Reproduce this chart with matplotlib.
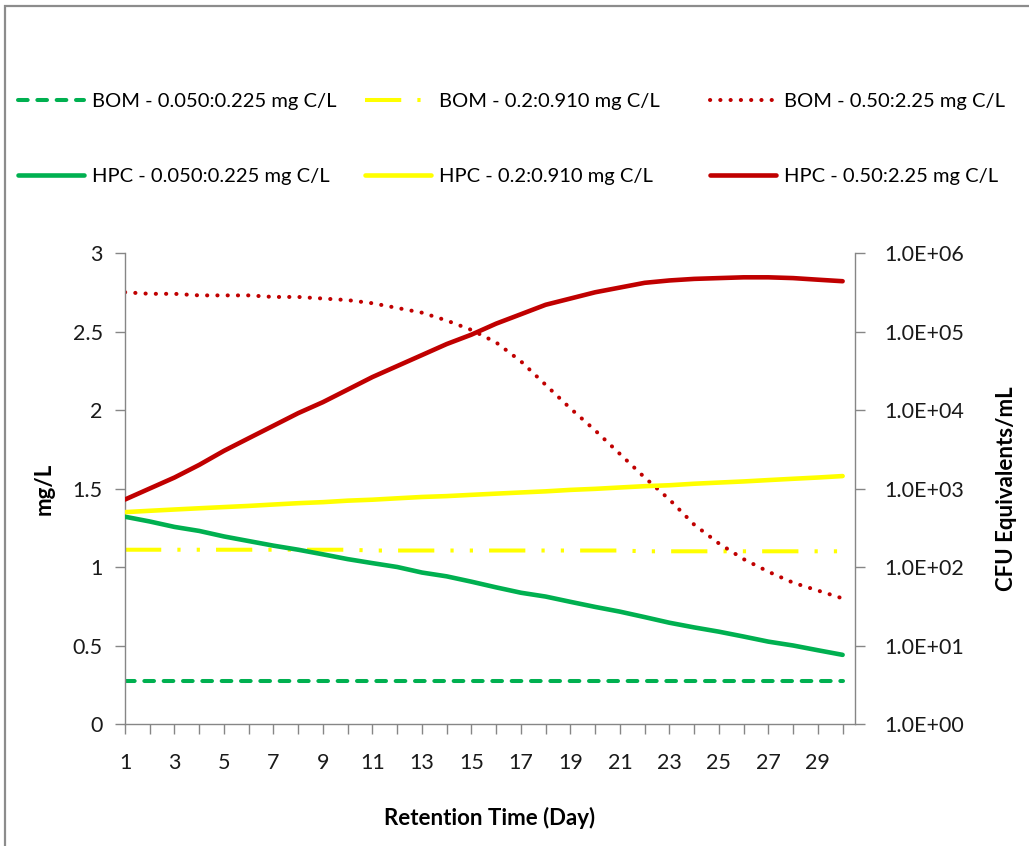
"""
BOM (mg/L) and HPC (CFU equivalents/mL) versus retention time
for three feed scenarios: 0.050:0.225, 0.2:0.910 and 0.50:2.25 mg C/L.
"""

import numpy as np
import matplotlib
matplotlib.use("Agg")
import matplotlib.pyplot as plt
from matplotlib.patches import Rectangle
from matplotlib.ticker import FixedLocator, NullFormatter

plt.rcParams["font.family"] = ["Lato", "DejaVu Sans"]

# ─────────────────────────────────────────────
# DATA
# ─────────────────────────────────────────────
days = list(range(1, 31))

# BOM, mg/L (left axis)
bom_low = [0.275] * 30
bom_mid = [1.11, 1.11, 1.11, 1.11, 1.11, 1.11, 1.11, 1.11, 1.11, 1.11,
           1.105, 1.105, 1.105, 1.105, 1.105, 1.105, 1.105, 1.105, 1.105, 1.105,
           1.105, 1.10, 1.10, 1.10, 1.10, 1.10, 1.10, 1.10, 1.10, 1.10]
bom_high = [2.75, 2.74, 2.74, 2.73, 2.73, 2.73, 2.72, 2.72, 2.71, 2.70,
            2.68, 2.65, 2.62, 2.57, 2.51, 2.43, 2.31, 2.16, 2.01, 1.87,
            1.72, 1.57, 1.43, 1.27, 1.15, 1.05, 0.97, 0.90, 0.85, 0.80]

# HPC, CFU equivalents/mL (right axis, log)
hpc_low = [437, 380, 324, 288, 245, 214, 187, 166, 145, 126,
           112, 100, 85, 76, 65, 55, 47, 42, 36, 31,
           27, 23, 19.5, 17, 15, 13, 11.2, 10, 8.7, 7.6]
hpc_mid = [500, 520, 540, 560, 580, 600, 625, 650, 670, 700,
           720, 750, 780, 800, 830, 860, 890, 920, 960, 990,
           1030, 1070, 1100, 1150, 1190, 1230, 1280, 1330, 1380, 1440]
hpc_high = [724, 1000, 1380, 2000, 3020, 4370, 6310, 9120, 12600, 18200,
            26300, 36300, 50100, 69200, 91200, 126000, 166000, 219000, 263000, 316000,
            363000, 417000, 447000, 468000, 479000, 490000, 490000, 479000, 457000, 437000]

left_ticks = [0, 0.5, 1, 1.5, 2, 2.5, 3]
left_labels = ["0", "0.5", "1", "1.5", "2", "2.5", "3"]
right_ticks = [1e0, 1e1, 1e2, 1e3, 1e4, 1e5, 1e6]
right_labels = ["1.0E+00", "1.0E+01", "1.0E+02", "1.0E+03", "1.0E+04", "1.0E+05", "1.0E+06"]

GREEN = "#00B050"
YELLOW = "#FFFF00"
RED = "#C00000"
AXIS_GREY = "#868686"

# ─────────────────────────────────────────────
# FIGURE
# ─────────────────────────────────────────────
fig = plt.figure(figsize=(10.29, 8.46), dpi=100)
ax = fig.add_axes([125 / 1029, 1 - 724 / 846, (855 - 125) / 1029, (724 - 253) / 846])
ax2 = ax.twinx()

# BOM series
lw_b = 2.9
ax.plot(days, bom_low, color=GREEN, lw=lw_b, ls=(0, (2.4, 2.4)),
        dash_capstyle="round", label="BOM - 0.050:0.225 mg C/L")
ax.plot(days, bom_mid, color=YELLOW, lw=lw_b, ls=(0, (9.0, 4.0, 0.8, 4.0, 0.8, 4.0)),
        dash_capstyle="butt", label="BOM - 0.2:0.910 mg C/L")
ax.plot(days, bom_high, color=RED, lw=lw_b, ls=(0, (0.05, 2.5)),
        dash_capstyle="round", label="BOM - 0.50:2.25 mg C/L")

# HPC series
lw_h = 3.3
ax2.plot(days, hpc_low, color=GREEN, lw=lw_h, solid_capstyle="round",
         label="HPC - 0.050:0.225 mg C/L")
ax2.plot(days, hpc_mid, color=YELLOW, lw=lw_h, solid_capstyle="round",
         label="HPC - 0.2:0.910 mg C/L")
ax2.plot(days, hpc_high, color=RED, lw=lw_h, solid_capstyle="round",
         label="HPC - 0.50:2.25 mg C/L")

# axes
ax.set_xlim(1, 30.5)
ax.set_ylim(0, 3)
ax2.set_yscale("log")
ax2.set_ylim(1, 1e6)

ax.set_xticks(days)
ax.set_xticklabels([str(d) if d % 2 == 1 else "" for d in days])
ax.set_yticks(left_ticks)
ax.set_yticklabels(left_labels)
ax2.yaxis.set_major_locator(FixedLocator(right_ticks))
ax2.set_yticklabels(right_labels)
ax2.yaxis.set_minor_formatter(NullFormatter())
ax2.yaxis.set_minor_locator(FixedLocator([]))

for a in (ax, ax2):
    a.spines["top"].set_visible(False)
    for s in ("left", "right", "bottom"):
        a.spines[s].set_color(AXIS_GREY)
        a.spines[s].set_linewidth(1.0)
    a.tick_params(colors=AXIS_GREY, labelcolor="#1a1a1a", labelsize=15.5,
                  length=7, width=1.0, direction="out")
ax.spines["right"].set_visible(False)
ax2.spines["left"].set_visible(False)
ax2.spines["bottom"].set_visible(False)
ax.tick_params(axis="x", pad=14)
ax.tick_params(axis="y", pad=9)
ax2.tick_params(axis="y", pad=14)

ax.set_xlabel("Retention Time (Day)", fontsize=16, fontweight="bold", labelpad=24)
ax.set_ylabel("mg/L", fontsize=16, fontweight="bold", labelpad=13)
ax2.set_ylabel("CFU Equivalents/mL", fontsize=16, fontweight="bold", labelpad=23)

# legend: one block per scenario, BOM on the first row and HPC on the second
h1, l1 = ax.get_legend_handles_labels()
h2, l2 = ax2.get_legend_handles_labels()
col_x = [14, 361, 706]
for i, x0 in enumerate(col_x):
    fig.legend([h1[i], h2[i]], [l1[i], l2[i]], ncol=1, loc="upper left",
               bbox_to_anchor=(x0 / 1029, 1 - 89 / 846), frameon=False,
               fontsize=14.5, handlelength=3.3, handletextpad=0.35,
               labelspacing=2.85, borderaxespad=0, borderpad=0.2)

# outer chart border
fig.add_artist(Rectangle((5 / 1029, -0.05), 1.2, 1.05 - 6 / 846,
                         transform=fig.transFigure, fill=False,
                         edgecolor="#8c8c8c", lw=1.6))

fig.savefig("out.png", dpi=100)
